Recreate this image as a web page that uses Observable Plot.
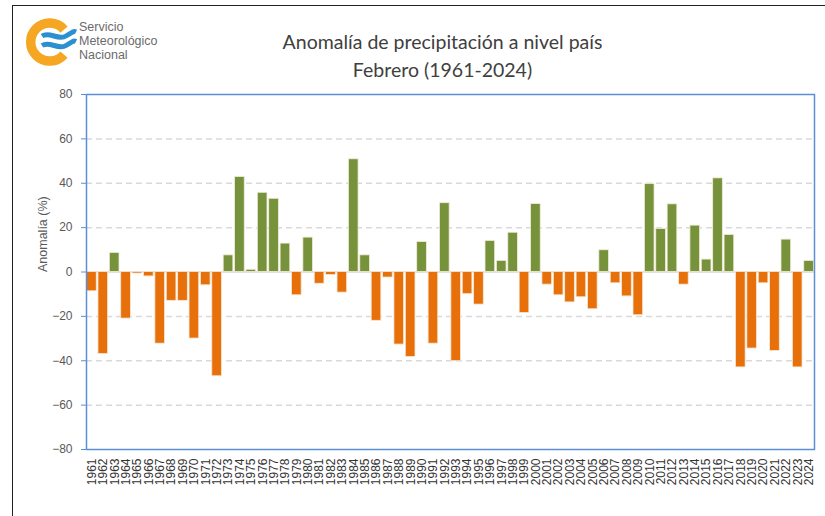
<!DOCTYPE html>
<html>
<head>
<meta charset="utf-8">
<script src="https://cdn.jsdelivr.net/npm/d3@7"></script>
<script src="https://cdn.jsdelivr.net/npm/@observablehq/plot@0.6"></script>
<style>
  html, body { margin: 0; padding: 0; background: #fff; }
  #wrap { position: relative; width: 825px; height: 516px; overflow: hidden; background: #fff; }
  #border { position: absolute; left: 12px; top: 5px; right: -4px; bottom: -4px; border-left: 1.5px solid #222; border-top: 1.5px solid #222; }
  #chart { position: absolute; left: 0; top: 0; }
  .title { position: absolute; left: 0; width: 885px; text-align: center; font-family: Lato, "Open Sans", sans-serif; font-size: 19.5px; color: #404040; }
  #logoText { position: absolute; left: 79px; top: 20px; font-family: "Liberation Sans", Arial, sans-serif; font-size: 12.5px; line-height: 14px; color: #6b6b6b; }
  #logo { position: absolute; left: 22px; top: 16px; }
</style>
</head>
<body>
<div id="wrap">
  <div id="border"></div>
  <svg id="logo" width="58" height="52" viewBox="0 0 58 52">
    <path d="M 42 13.5 A 19 19 0 1 0 42 38.5" fill="none" stroke="#f5a623" stroke-width="9.5"/>
    <path d="M 20 20 C 28 15, 36 25, 44 20 S 52 15, 54 16" fill="none" stroke="#2b8fd0" stroke-width="5"/>
    <path d="M 20 29.5 C 28 24.5, 36 34.5, 44 29.5 S 52 24.5, 54 25.5" fill="none" stroke="#2b8fd0" stroke-width="5"/>
  </svg>
  <div id="logoText">Servicio<br>Meteorológico<br>Nacional</div>
  <div class="title" style="top:30px;">Anomalía de precipitación a nivel país</div>
  <div class="title" style="top:58px;">Febrero (1961-2024)</div>
  <div id="chart"></div>
</div>
<script>
const years = d3.range(1961, 2025).map(String);
const values = [
  -8.7, -37, 8.6, -21, -0.7, -2, -32.3, -13, -13, -30,
  -6, -47, 7.5, 42.8, 1, 35.7, 33, 12.8, -10.5, 15.5,
  -5.3, -1.4, -9.3, 50.8, 7.5, -22, -2.5, -32.7, -38.3, 13.5,
  -32.3, 31, -40.2, -10, -14.7, 14, 5, 17.7, -18.5, 30.6,
  -5.7, -10.5, -13.7, -11.4, -16.8, 9.8, -5.1, -11, -19.5, 39.6,
  19.4, 30.5, -5.7, 20.9, 5.6, 42.2, 16.7, -43, -34.5, -5.1,
  -35.6, 14.6, -43, 5
];
const yTicks = [-80, -60, -40, -20, 0, 20, 40, 60, 80];
const gridTicks = [-60, -40, -20, 20, 40, 60];

const data = years.map((y, i) => ({year: y, value: values[i]}));

const chart = Plot.plot({
  width: 825,
  height: 516,
  marginLeft: 86,
  marginRight: 11,
  marginTop: 94,
  marginBottom: 67,
  style: {fontFamily: "'Liberation Sans', Arial, sans-serif", background: "transparent"},
  x: {type: "band", domain: years, paddingInner: 0.15, paddingOuter: 0.05, round: false, label: null},
  y: {domain: [-80, 80], label: null},
  marks: [
    Plot.ruleY(gridTicks, {stroke: "#d9d9d9", strokeWidth: 1.5, strokeDasharray: "6,4"}),
    Plot.ruleY([0], {stroke: "#d9d9d9", strokeWidth: 1.5}),
    Plot.barY(data, {
      x: "year", y: "value",
      fill: d => d.value >= 0 ? "#76933c" : "#e8700a",
      stroke: "#f3ead9", strokeWidth: 0.8
    }),
    Plot.frame({stroke: "#5b8fd6", strokeWidth: 1.5}),
    Plot.axisY({
      ticks: yTicks, tickSize: 5, tickPadding: 9, stroke: "#5b8fd6",
      fontSize: 12, fill: "#595959", label: null
    }),
    Plot.axisX({
      tickSize: 0, tickPadding: 9, tickRotate: -90, fontSize: 12, fill: "#333", label: null
    }),
    Plot.text(["Anomalía (%)"], {
      frameAnchor: "left", dx: -44, rotate: -90, fontSize: 12.5, fill: "#595959"
    })
  ]
});
document.getElementById("chart").appendChild(chart);
</script>
</body>
</html>
